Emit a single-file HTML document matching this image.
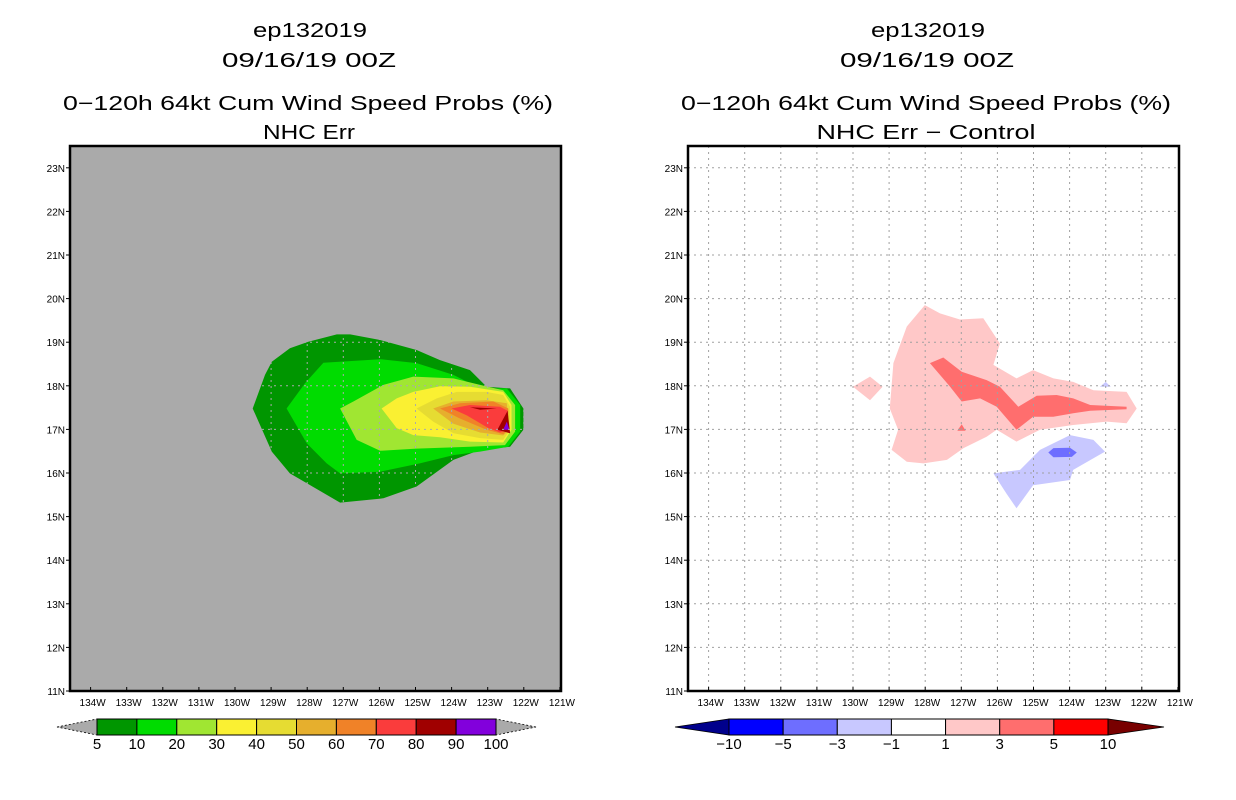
<!DOCTYPE html>
<html><head><meta charset="utf-8"><style>
html,body{margin:0;padding:0;background:#fff;}
svg{display:block;font-family:"Liberation Sans",sans-serif;}
</style></head><body>
<svg id="chart" width="1236" height="800" viewBox="0 0 1236 800" xmlns="http://www.w3.org/2000/svg">
<g font-size="20" text-anchor="middle" fill="#000">
<text x="310" y="37" textLength="114" lengthAdjust="spacingAndGlyphs">ep132019</text>
<text x="309" y="67" textLength="174" lengthAdjust="spacingAndGlyphs">09/16/19 00Z</text>
<text x="308" y="110" textLength="490" lengthAdjust="spacingAndGlyphs">0−120h 64kt Cum Wind Speed Probs (%)</text>
<text x="309" y="139" textLength="92" lengthAdjust="spacingAndGlyphs">NHC Err</text>
</g>
<g font-size="20" text-anchor="middle" fill="#000">
<text x="928" y="37" textLength="114" lengthAdjust="spacingAndGlyphs">ep132019</text>
<text x="927" y="67" textLength="174" lengthAdjust="spacingAndGlyphs">09/16/19 00Z</text>
<text x="926" y="110" textLength="490" lengthAdjust="spacingAndGlyphs">0−120h 64kt Cum Wind Speed Probs (%)</text>
<text x="926" y="139" textLength="219" lengthAdjust="spacingAndGlyphs">NHC Err − Control</text>
</g>
<g id="left"></g>
<g id="right"></g>
<g id="cbars"></g>
</svg>
<script>
// axis data
const lonTicks = [134,133,132,131,130,129,128,127,126,125,124,123,122,121];
const latTicks = [11,12,13,14,15,16,17,18,19,20,21,22,23];
// left panel contour levels (lower bounds) and fills
const leftLevels = [5,10,20,30,40,50,60,70,80,80,90];
const leftColors = ["#009600","#00dc00","#a0e632","#faf032","#e6dc32","#e6af2d","#f08228","#fa3c3c","#a00000","#a00000","#8200dc"];
// polygons: [lonW, latN]
const p5 = [[129.51,17.48],[129.17,18.25],[128.98,18.55],[128.48,18.86],[127.97,19.01],[127.18,19.18],[126.81,19.18],[125.98,19.05],[124.97,18.82],[124.32,18.59],[123.49,18.36],[123.03,17.98],[122.38,17.94],[122.01,17.48],[122.01,16.99],[122.38,16.60],[123.21,16.53],[123.95,16.30],[124.97,15.69],[125.89,15.42],[127.09,15.32],[128.48,15.99],[128.98,16.49]];
const p10 = [[128.57,17.48],[128.06,18.06],[127.55,18.53],[125.98,18.61],[124.97,18.52],[123.95,18.25],[123.40,18.02],[122.98,17.94],[122.47,17.94],[122.10,17.56],[122.10,16.95],[122.43,16.60],[123.21,16.49],[123.95,16.41],[124.88,16.22],[125.98,16.03],[127.09,15.99],[127.46,16.22],[128.01,16.68]];
const p20 = [[127.09,17.48],[126.72,17.64],[125.89,18.02],[125.06,18.21],[123.95,18.17],[123.21,18.02],[122.57,17.90],[122.24,17.56],[122.24,16.95],[122.52,16.64],[123.49,16.60],[124.97,16.56],[125.98,16.51],[126.63,16.76]];
const p30 = [[125.94,17.48],[125.52,17.71],[125.06,17.86],[124.32,17.99],[123.49,17.98],[122.57,17.86],[122.34,17.56],[122.34,16.99],[122.57,16.70],[123.49,16.72],[124.32,16.82],[125.06,16.87],[125.52,17.03]];
const p40 = [[124.97,17.48],[124.41,17.71],[123.86,17.86],[123.03,17.86],[122.57,17.79],[122.38,17.52],[122.38,16.99],[122.57,16.76],[123.21,16.80],[123.95,16.91],[124.51,17.18]];
const p50 = [[124.51,17.48],[123.95,17.64],[123.03,17.67],[122.47,17.60],[122.40,16.99],[122.57,16.86],[123.21,16.93],[123.95,17.13]];
const p60 = [[124.32,17.48],[123.77,17.60],[122.84,17.64],[122.43,17.48],[122.43,16.99],[122.57,16.89],[123.03,16.99],[123.77,17.25]];
const p70 = [[124.00,17.48],[123.49,17.56],[122.66,17.52],[122.45,17.43],[122.45,16.99],[122.66,16.93],[122.98,17.03],[123.58,17.32]];
const p80a = [[123.49,17.51],[122.75,17.48],[123.21,17.45]];
const p80b = [[122.73,16.99],[122.45,17.43],[122.38,16.91]];
const p90 = [[122.57,16.99],[122.47,17.18],[122.40,16.99]];
const leftPolys = [p5,p10,p20,p30,p40,p50,p60,p70,p80a,p80b,p90];
// right panel difference contours
const rightLabels = ["-10","-5","-3","-1","1","3","5","10"];
const rightColors = ["#00008c","#0000ff","#6e6eff","#c8c8ff","#ffffff","#ffc8c8","#ff6e6e","#ff0000","#780000"];
const d1 = [[128.01,19.85],[127.59,19.66],[127.04,19.52],[126.39,19.55],[125.93,18.97],[126.11,18.48],[125.47,18.17],[125.01,18.36],[124.45,18.17],[123.90,18.09],[123.34,17.90],[122.42,17.86],[122.14,17.48],[122.42,17.14],[122.97,17.18],[123.90,17.10],[124.82,16.99],[125.47,16.72],[126.02,16.99],[126.30,16.83],[126.94,16.57],[127.40,16.30],[128.05,16.22],[128.51,16.26],[128.93,16.53],[128.75,16.99],[128.98,17.48],[128.88,18.52],[128.51,19.36]];
const d1b = [[130.00,17.98],[129.53,18.21],[129.18,17.98],[129.53,17.67]];
const d3 = [[127.87,18.52],[127.50,18.65],[126.99,18.32],[126.30,18.13],[125.93,17.98],[125.42,17.52],[124.91,17.77],[124.36,17.79],[123.90,17.71],[123.43,17.56],[122.42,17.52],[122.42,17.46],[123.43,17.43],[123.90,17.37],[124.45,17.29],[125.01,17.29],[125.47,16.99],[126.02,17.52],[126.48,17.71],[126.99,17.64],[127.31,17.98]];
const d3b = [[127.11,16.97],[126.99,17.12],[126.88,16.97]];
const dm1 = [[126.11,15.99],[125.37,16.07],[124.82,16.53],[123.99,16.87],[123.34,16.76],[123.02,16.49],[123.90,16.07],[123.99,15.84],[125.01,15.72],[125.47,15.19],[125.75,15.53]];
const dm1b = [[123.16,17.98],[123.00,18.09],[122.86,17.98]];
const dm3 = [[124.59,16.47],[124.45,16.57],[123.99,16.58],[123.80,16.47],[123.94,16.37],[124.45,16.36]];
const rightPolys = [d1,d1b,d3,d3b,dm1,dm1b,dm3];
const rightPolyColor = [5,5,6,6,3,3,2];
const leftCbLabels = ["5","10","20","30","40","50","60","70","80","90","100"];

const NS="http://www.w3.org/2000/svg";
function mk(tag, attrs, parent){const e=document.createElementNS(NS,tag);for(const k in attrs)e.setAttribute(k,attrs[k]);parent.appendChild(e);return e;}
const PW=491, PH=545, PY=146;
function xScale(lonW, x0){return x0 + 273.3 + (127 - lonW)*36.1;}
function yScale(lat){return 691 - (lat-11)*43.6;}
function ptsStr(poly,x0){return poly.map(p=>xScale(p[0],x0).toFixed(1)+","+yScale(p[1]).toFixed(1)).join(" ");}

function drawPanel(g, x0, bg, gridColor){
  const bgR = mk('rect',{x:x0,y:PY,width:PW,height:PH,fill:bg},g);
  
  
  return function(){
    const grid = mk('g',{stroke:gridColor,'stroke-width':1,'stroke-dasharray':'2,4',fill:'none'},g);
    
    
    lonTicks.forEach(l=>{const x=xScale(l,x0); if(x>x0+2&&x<x0+PW-2){const ln=mk('line',{x1:x,y1:PY,x2:x,y2:PY+PH},grid);}});
    latTicks.forEach(l=>{const y=yScale(l); if(y>PY+2&&y<PY+PH-2){const ln=mk('line',{x1:x0,y1:y,x2:x0+PW,y2:y},grid);}});
    const fr = mk('rect',{x:x0,y:PY,width:PW,height:PH,fill:'none',stroke:'#000','stroke-width':2.5},g);
    
    
    const ax = mk('g',{'font-size':10,fill:'#000'},g);
    
    
    latTicks.forEach(l=>{const y=yScale(l);
      const t=mk('text',{x:x0-5,y:y+4,'text-anchor':'end'},ax);t.textContent=l+'N';
      
      const tk=mk('line',{x1:x0-4,y1:y,x2:x0,y2:y,stroke:'#000'},ax);});
    lonTicks.forEach(l=>{const x=xScale(l,x0);
      const t=mk('text',{x:x+2,y:706,'text-anchor':'middle'},ax);t.textContent=l+'W';
      
      const tk=mk('line',{x1:x,y1:PY+PH,x2:x,y2:PY+PH-4,stroke:'#000'},ax);});
  };
}
// left
const L=document.getElementById('left');
const finL=drawPanel(L,70,'#aaaaaa','#aaaaaa');
leftPolys.forEach((p,i)=>{const e=mk('polygon',{points:ptsStr(p,70),fill:leftColors[i]},L);
  
  });
finL();
// right
const R=document.getElementById('right');
const finR=drawPanel(R,688,'#ffffff','#a0a0a0');
rightPolys.forEach((p,i)=>{const e=mk('polygon',{points:ptsStr(p,688),fill:rightColors[rightPolyColor[i]]},R);
  
  });
finR();
// colorbars
const C=document.getElementById('cbars');
function cbar(x0,x1,tipL,tipR,colors,labels,endL,endR,name){
  const g=mk('g',{},C);
  
  
  const n=colors.length, w=(x1-x0)/n, yt=719, yb=735, ym=727;
  const a=mk('polygon',{points:`${tipL},${ym} ${x0},${yt} ${x0},${yb}`,fill:endL,stroke:'#000','stroke-width':0.8,'stroke-dasharray':'2,2'},g);
  
  const b=mk('polygon',{points:`${tipR},${ym} ${x1},${yt} ${x1},${yb}`,fill:endR,stroke:'#000','stroke-width':0.8,'stroke-dasharray':'2,2'},g);
  
  colors.forEach((c,i)=>{const r=mk('rect',{x:x0+i*w,y:yt,width:w,height:yb-yt,fill:c,stroke:'#000','stroke-width':1},g);
    });
  labels.forEach((s,i)=>{const t=mk('text',{x:x0+i*w,y:749,'font-size':15,'text-anchor':'middle'},g);t.textContent=s;
    });
}
cbar(97,496,57,536,leftColors.filter((c,i)=>i!==9),leftCbLabels,'#aaaaaa','#aaaaaa','left-colorbar');
(function(){
  const inner=rightColors.slice(1,8);
  const g=mk('g',{},C);
  
  
  const x0=729,x1=1108,w=(x1-x0)/inner.length;
  const a=mk('polygon',{points:`675,727 ${x0},719 ${x0},735`,fill:rightColors[0],stroke:'#000','stroke-width':0.8},g);
  
  const b=mk('polygon',{points:`1164,727 ${x1},719 ${x1},735`,fill:rightColors[8],stroke:'#000','stroke-width':0.8},g);
  
  inner.forEach((c,i)=>{const r=mk('rect',{x:x0+i*w,y:719,width:w,height:16,fill:c,stroke:'#000','stroke-width':1},g);
    });
  rightLabels.forEach((s,i)=>{const t=mk('text',{x:x0+i*w,y:749,'font-size':15,'text-anchor':'middle'},g);t.textContent=s.replace('-','−');
    });
})();
</script>
</body></html>
